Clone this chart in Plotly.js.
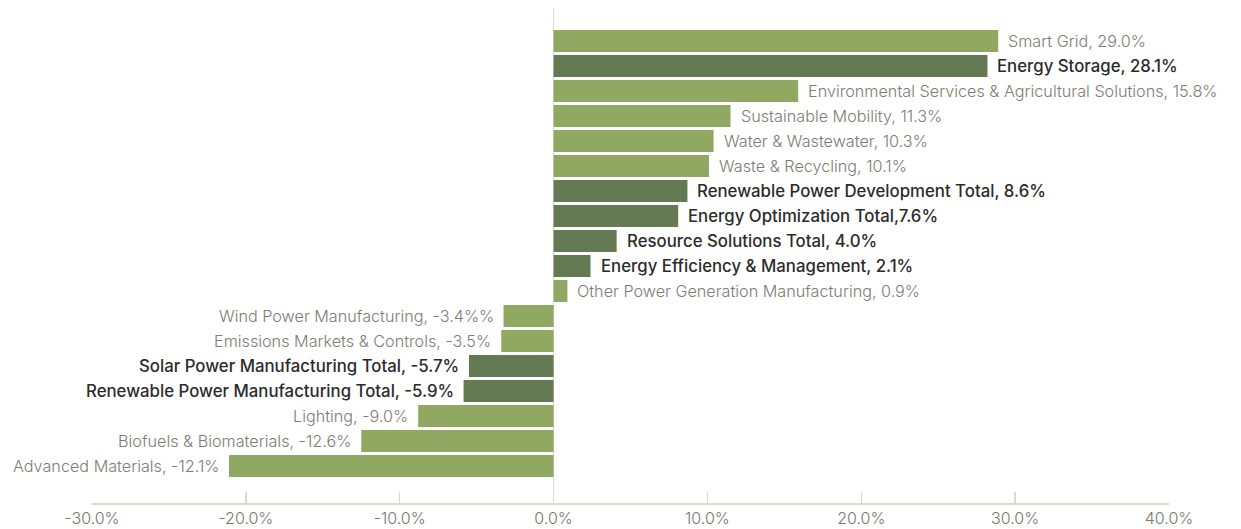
<!DOCTYPE html>
<html>
<head>
<meta charset="utf-8">
<script src="https://cdn.plot.ly/plotly-3.0.1.min.js"></script>
<style>html,body{margin:0;padding:0;background:#fff;}#chart{width:1241px;height:529px;}</style>
</head>
<body>
<div id="chart"></div>
<script>
const categories = [
  "Smart Grid", "Energy Storage", "Environmental Services & Agricultural Solutions",
  "Sustainable Mobility", "Water & Wastewater", "Waste & Recycling",
  "Renewable Power Development Total", "Energy Optimization Total", "Resource Solutions Total",
  "Energy Efficiency & Management", "Other Power Generation Manufacturing",
  "Wind Power Manufacturing", "Emissions Markets & Controls", "Solar Power Manufacturing Total",
  "Renewable Power Manufacturing Total", "Lighting", "Biofuels & Biomaterials", "Advanced Materials"
];
const values = [28.9, 28.2, 15.9, 11.5, 10.4, 10.1, 8.7, 8.1, 4.1, 2.4, 0.9, -3.25, -3.4, -5.5, -5.85, -8.8, -12.5, -21.1];
const labels = [
  "Smart Grid, 29.0%", "Energy Storage, 28.1%", "Environmental Services & Agricultural Solutions, 15.8%",
  "Sustainable Mobility, 11.3%", "Water & Wastewater, 10.3%", "Waste & Recycling, 10.1%",
  "Renewable Power Development Total, 8.6%", "Energy Optimization Total,7.6%", "Resource Solutions Total, 4.0%",
  "Energy Efficiency & Management, 2.1%", "Other Power Generation Manufacturing, 0.9%",
  "Wind Power Manufacturing, -3.4%%", "Emissions Markets & Controls, -3.5%", "Solar Power Manufacturing Total, -5.7%",
  "Renewable Power Manufacturing Total, -5.9%", "Lighting, -9.0%", "Biofuels & Biomaterials, -12.6%", "Advanced Materials, -12.1%"
];
const isTotal = [false, true, false, false, false, false, true, true, true, true, false, false, false, true, true, false, false, false];
const tickVals = [-30, -20, -10, 0, 10, 20, 30, 40];
const tickText = ["-30.0%", "-20.0%", "-10.0%", "0.0%", "10.0%", "20.0%", "30.0%", "40.0%"];

const LIGHT = "#90a862", DARK = "#647a52";
const FONT = "Inter, 'Noto Sans', sans-serif";

const trace = {
  type: "bar", orientation: "h",
  x: values, y: categories,
  marker: {color: isTotal.map(t => t ? DARK : LIGHT), line: {width: 0}},
  hoverinfo: "skip"
};

const annotations = categories.map((c, i) => ({
  x: values[i], y: c, xref: "x", yref: "y",
  text: labels[i], showarrow: false,
  xanchor: values[i] >= 0 ? "left" : "right",
  xshift: values[i] >= 0 ? 8 : -8,
  yanchor: "middle",
  font: {family: FONT, size: isTotal[i] ? 16.8 : 16.2, color: isTotal[i] ? "#2b2b2b" : "#7d7d72", weight: isTotal[i] ? 500 : 300}
}));

const layout = {
  width: 1241, height: 529,
  margin: {l: 92, r: 72, t: 8, b: 26},
  paper_bgcolor: "#fff", plot_bgcolor: "#fff",
  bargap: 0.12,
  showlegend: false,
  xaxis: {
    range: [-30, 40], tickvals: tickVals, ticktext: tickText,
    showgrid: false, zeroline: true, zerolinecolor: "#d9d9d4", zerolinewidth: 1.5,
    showline: true, linecolor: "#d9d9d4", linewidth: 1.5,
    ticks: "inside", ticklen: 11, tickcolor: "#d9d9d4", tickwidth: 1.5,
    tickfont: {family: FONT, size: 16, color: "#77776b", weight: 300},
    fixedrange: true
  },
  yaxis: {
    type: "category", categoryorder: "array", categoryarray: categories,
    range: [18.48, -1.32], showticklabels: false, showgrid: false, zeroline: false,
    showline: false, ticks: "", fixedrange: true
  },
  annotations: annotations
};

Plotly.newPlot("chart", [trace], layout, {displayModeBar: false, staticPlot: true});
</script>
</body>
</html>
